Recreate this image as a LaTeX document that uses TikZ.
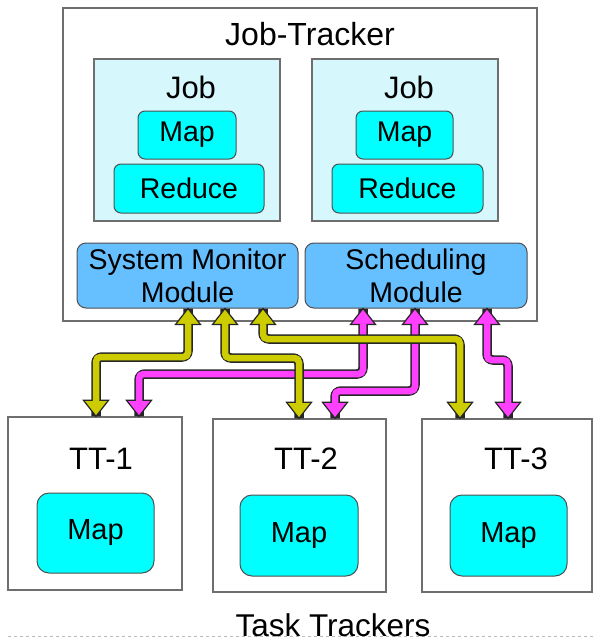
\documentclass[tikz,border=0pt]{standalone}
\usepackage{fontspec}
\setmainfont{Liberation Sans}

\definecolor{jobfill}{HTML}{D6F8FD}
\definecolor{taskcyan}{HTML}{00FFFF}
\definecolor{modblue}{HTML}{66BFFF}
\definecolor{busyellow}{HTML}{CCCC00}
\definecolor{busmagenta}{HTML}{FF40FF}
\definecolor{framegray}{HTML}{6E6E6E}
\definecolor{edgegray}{HTML}{505050}

\tikzset{
  frame/.style={draw=framegray, line width=1.4, fill=white, inner sep=0},
  jobbox/.style={draw=framegray, line width=1.4, fill=jobfill, inner sep=0},
  task/.style={draw=edgegray, line width=1, fill=taskcyan, rounded corners=7, inner sep=0},
  bigtask/.style={task, rounded corners=12},
  module/.style={draw=edgegray, line width=1, fill=modblue, rounded corners=9,
                 inner sep=0, align=center},
  txt/.style={inner sep=0, anchor=base},
  shaftout/.style={draw=black!85, line width=9.5, rounded corners=6},
  shaftin/.style={line width=6.5, rounded corners=4.5, shorten <=10, shorten >=10},
  head/.style={draw=black!85, line width=1.2, line join=miter},
}

% double-headed block arrow: colour, top tip, bends, bottom tip
\newcommand\busarrow[4]{%
  \draw[shaftout] (#2) #3 (#4);
  \filldraw[head, fill=#1] (#2) -- ++(-12.5,16) -- ++(25,0) -- cycle;
  \filldraw[head, fill=#1] (#4) -- ++(-12.5,-16) -- ++(25,0) -- cycle;
  \draw[shaftin, draw=#1] (#2) #3 (#4);
}

\begin{document}
\begin{tikzpicture}[x=1pt, y=-1pt]
  \useasboundingbox (0,0) rectangle (593,641);

  % Job tracker with its two jobs and two modules
  \node[frame, minimum width=474, minimum height=313] (jt) at (300,164.5) {};
  \node[txt, font=\fontsize{32}{36}\selectfont] (jtl) at (310,45) {Job-Tracker};

  \node[jobbox, minimum width=186, minimum height=162] (job1) at (187,140) {};
  \node[jobbox, minimum width=186, minimum height=162] (job2) at (405,140) {};
  \node[txt, font=\fontsize{31}{35}\selectfont] (job1l) at (191,98) {Job};
  \node[txt, font=\fontsize{31}{35}\selectfont] (job2l) at (409,98) {Job};

  \begin{scope}[every node/.append style={font=\fontsize{28.5}{33}\selectfont}]
    \node[task, minimum width=98, minimum height=48] (map1) at (187,135) {Map};
    \node[task, minimum width=150, minimum height=49] (red1) at (189,188.5) {Reduce};
    \node[task, minimum width=97, minimum height=48] (map2) at (404.5,135) {Map};
    \node[task, minimum width=151, minimum height=49] (red2) at (407.5,188.5) {Reduce};
    \node[module, minimum width=221, minimum height=65] (smm) at (187.5,275.5)
      {System Monitor\\Module};
    \node[module, minimum width=222, minimum height=65] (sched) at (416,275.5)
      {Scheduling\\Module};
  \end{scope}

  % Task trackers
  \node[frame, minimum width=174, minimum height=173] (tt1) at (95,503.5) {};
  \node[frame, minimum width=173, minimum height=173] (tt2) at (299.5,505.5) {};
  \node[frame, minimum width=170, minimum height=173] (tt3) at (507,505.5) {};
  \begin{scope}[every node/.append style={font=\fontsize{31}{35}\selectfont}]
    \node[txt] (tt1l) at (101,469) {TT-1};
    \node[txt] (tt2l) at (306,469) {TT-2};
    \node[txt] (tt3l) at (516,469) {TT-3};
  \end{scope}
  \begin{scope}[every node/.append style={font=\fontsize{29}{33}\selectfont}]
    \node[bigtask, minimum width=117, minimum height=80] (tmap1) at (95.5,533) {Map};
    \node[bigtask, minimum width=118, minimum height=81] (tmap2) at (299,535.5) {Map};
    \node[bigtask, minimum width=117, minimum height=81] (tmap3) at (508.5,535.5) {Map};
  \end{scope}

  % dotted rule and caption under the task trackers
  \draw[gray!55, line width=1, dash pattern=on 3 off 3] (8,636) -- (593,636);
  \node[txt, fill=white, inner xsep=2, font=\fontsize{31.5}{35}\selectfont] (ttcap)
    at (333,636) {Task Trackers};

  % scheduling links (magenta), drawn first so the monitor links pass over them
  \busarrow{busmagenta}{[xshift=-53]sched.south}{-- (363,374) -- (139,374) --}{[xshift=44]tt1.north}
  \busarrow{busmagenta}{[xshift=-1]sched.south}{-- (415,391) -- (335,391) --}{[xshift=35.5]tt2.north}
  \busarrow{busmagenta}{[xshift=71]sched.south}{-- (487,360) -- (508,360) --}{[xshift=1]tt3.north}

  % monitoring links (yellow)
  \busarrow{busyellow}{[xshift=0.5]smm.south}{-- (188,357) -- (96,357) --}{[xshift=1]tt1.north}
  \busarrow{busyellow}{[xshift=37.5]smm.south}{-- (225,358) -- (299,358) --}{[xshift=-0.5]tt2.north}
  \busarrow{busyellow}{[xshift=75.5]smm.south}{-- (263,339) -- (460,339) --}{[xshift=-47]tt3.north}
\end{tikzpicture}
\end{document}
